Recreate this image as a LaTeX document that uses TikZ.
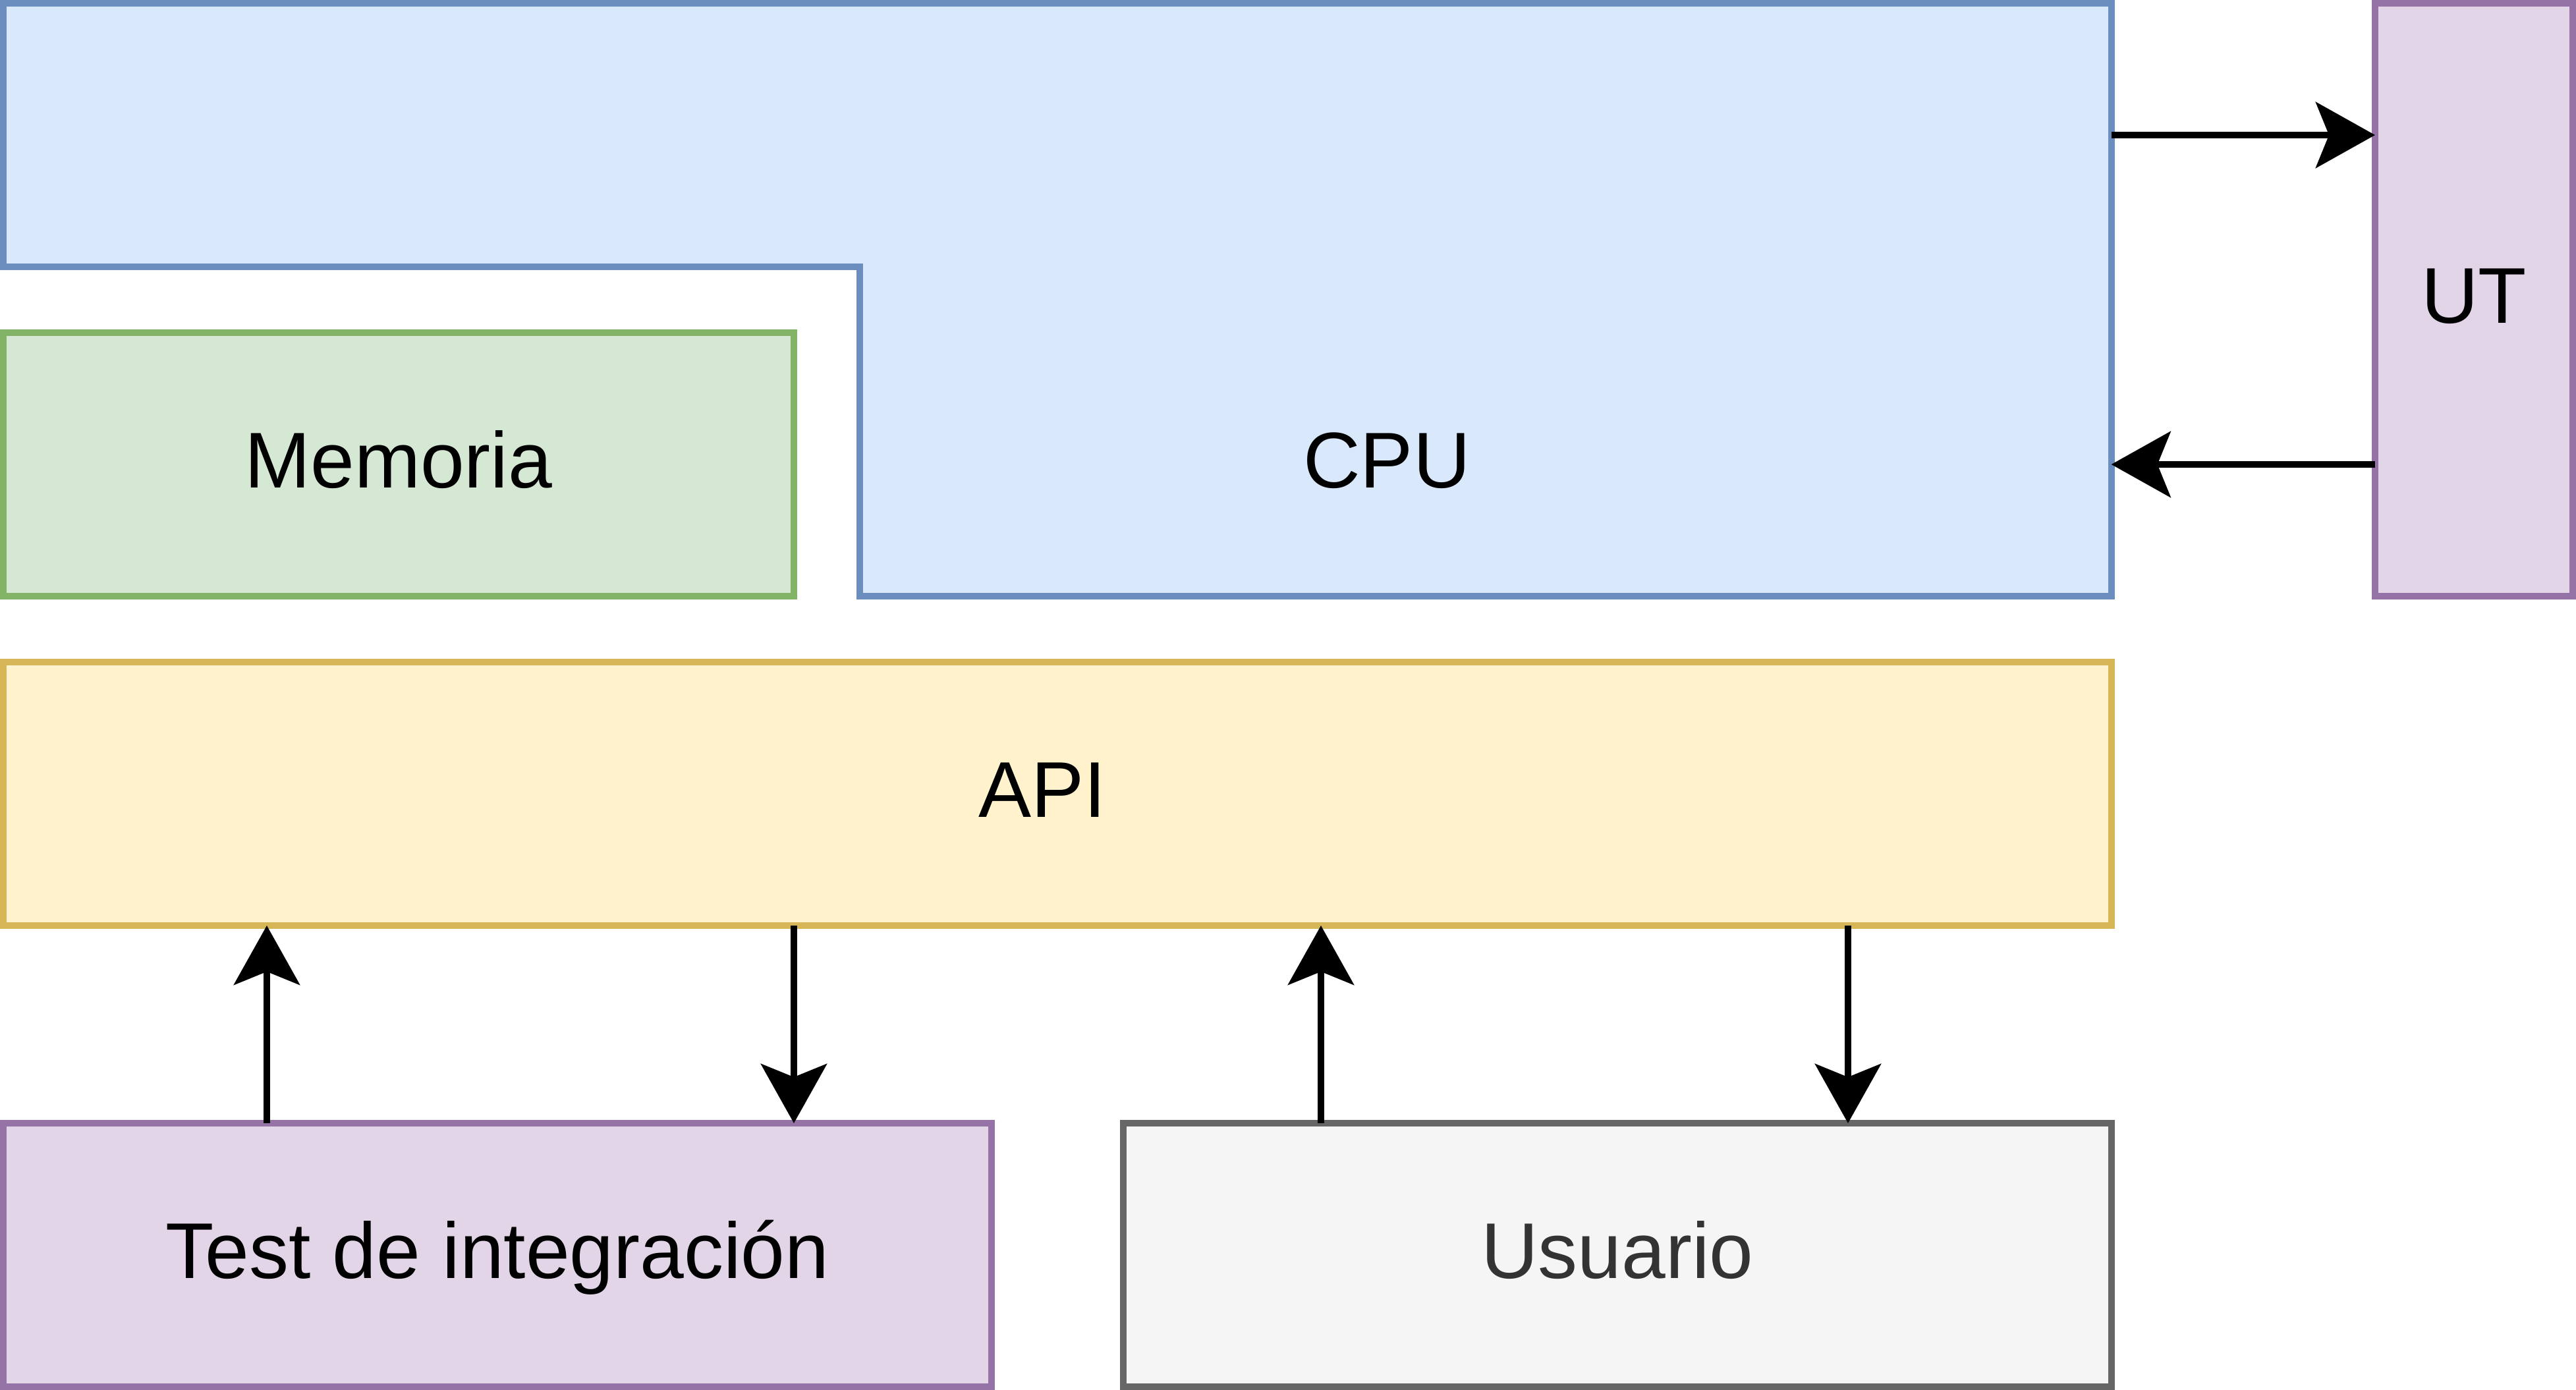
\documentclass[tikz,border=0pt]{standalone}
\usepackage{fontspec}
\setmainfont{Liberation Sans}
\usetikzlibrary{arrows.meta}
\definecolor{blueFill}{HTML}{DAE8FC}
\definecolor{blueLine}{HTML}{6C8EBF}
\definecolor{greenFill}{HTML}{D5E8D4}
\definecolor{greenLine}{HTML}{82B366}
\definecolor{yellowFill}{HTML}{FFF2CC}
\definecolor{yellowLine}{HTML}{D6B656}
\definecolor{purpleFill}{HTML}{E1D5E7}
\definecolor{purpleLine}{HTML}{9673A6}
\definecolor{grayFill}{HTML}{F5F5F5}
\definecolor{grayLine}{HTML}{666666}
\definecolor{grayText}{HTML}{333333}
\begin{document}
\begin{tikzpicture}[
    x=0.02cm, y=-0.02cm,
    every node/.style={font=\fontsize{13.66pt}{16pt}\selectfont, text height=9.8pt, text depth=1.7pt},
    block/.style={rectangle, draw, line width=0.04cm, inner sep=0pt, outer sep=0pt, align=center},
    arrow/.style={-{Stealth[length=0.36cm, width=0.4cm, inset=0.08cm]}, line width=0.04cm}
]
    \useasboundingbox (-1,-1) rectangle (781,421);
    \draw[line width=0.04cm, draw=blueLine, fill=blueFill] (0,0) -- (640,0) -- (640,180) -- (260,180) -- (260,80) -- (0,80) -- cycle;
    \node[inner sep=0pt, outer sep=0pt, minimum width=12.8cm, minimum height=3.6cm] (cpu) at (320,90) {};
    \node (cpulabel) at (420,140) {CPU};
    \node[block, fill=greenFill, draw=greenLine, minimum width=4.8cm, minimum height=1.6cm] (memoria) at (120,140) {Memoria};
    \node[block, fill=purpleFill, draw=purpleLine, minimum width=1.2cm, minimum height=3.6cm] (ut) at (750,90) {UT};
    \node[block, fill=yellowFill, draw=yellowLine, minimum width=12.8cm, minimum height=1.6cm] (api) at (320,240) {};
    \node (apilabel) at (315.5,240) {API};
    \node[block, fill=purpleFill, draw=purpleLine, minimum width=6cm, minimum height=1.6cm] (test) at (150,380) {Test de integración};
    \node[block, fill=grayFill, draw=grayLine, text=grayText, minimum width=6cm, minimum height=1.6cm] (usuario) at (490,380) {Usuario};

    \draw[arrow] (cpu.east |- 0,40) -- (ut.west |- 0,40);
    \draw[arrow] (ut.west |- 0,140) -- (cpu.east |- 0,140);
    \draw[arrow] (test.north -| 80,0) -- (api.south -| 80,0);
    \draw[arrow] (api.south -| 240,0) -- (test.north -| 240,0);
    \draw[arrow] (usuario.north -| 400,0) -- (api.south -| 400,0);
    \draw[arrow] (api.south -| 560,0) -- (usuario.north -| 560,0);
\end{tikzpicture}
\end{document}
